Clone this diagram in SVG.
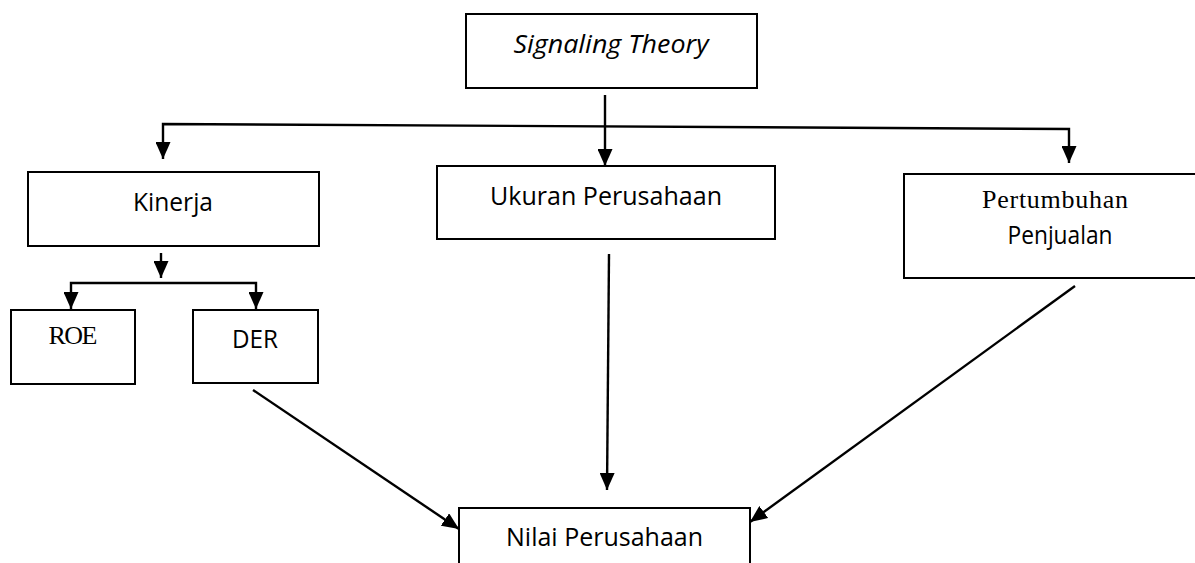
<svg xmlns="http://www.w3.org/2000/svg" width="1195" height="563" viewBox="0 0 1195 563">
<style>
.box{fill:#fff;stroke:#000;stroke-width:2}
.ln{fill:none;stroke:#000;stroke-width:2.4}
.sans{font-family:"Open Sans","Noto Sans",sans-serif;font-size:25px;fill:#000}
.serif{font-family:"Liberation Serif","DejaVu Serif",serif;font-size:26px;fill:#000}
</style>
<defs>
<marker id="ah" markerUnits="userSpaceOnUse" markerWidth="17" markerHeight="15" refX="17" refY="7.5" orient="auto-start-reverse" viewBox="0 0 17 15">
<path d="M0,0 L17,7.5 L0,15 Z" fill="#000"/>
</marker>
</defs>
<rect width="1195" height="563" fill="#fff"/>
<g id="signaling">
<rect class="box" x="466" y="14" width="291" height="74"/>
<text class="sans" x="611" y="53" text-anchor="middle" font-style="italic" textLength="195" lengthAdjust="spacingAndGlyphs">Signaling Theory</text>
</g>
<g id="kinerja">
<rect class="box" x="28" y="172" width="291" height="74"/>
<text class="sans" x="173" y="211" text-anchor="middle" textLength="80" lengthAdjust="spacingAndGlyphs">Kinerja</text>
</g>
<g id="ukuran">
<rect class="box" x="437" y="166" width="338" height="73"/>
<text class="sans" x="606" y="205" text-anchor="middle" textLength="232" lengthAdjust="spacingAndGlyphs">Ukuran Perusahaan</text>
</g>
<g id="pertumbuhan">
<rect class="box" x="904" y="174" width="292" height="104"/>
<text class="serif" x="1055" y="208" text-anchor="middle" textLength="146" lengthAdjust="spacing">Pertumbuhan</text>
<text class="sans" x="1060" y="244" text-anchor="middle" textLength="105" lengthAdjust="spacingAndGlyphs">Penjualan</text>
</g>
<g id="roe">
<rect class="box" x="11" y="310" width="124" height="74"/>
<text class="serif" x="73" y="344" text-anchor="middle" textLength="49" lengthAdjust="spacing">ROE</text>
</g>
<g id="der">
<rect class="box" x="193" y="310" width="125" height="73"/>
<text class="sans" x="255" y="348" text-anchor="middle" textLength="46" lengthAdjust="spacingAndGlyphs">DER</text>
</g>
<g id="nilai">
<rect class="box" x="459" y="508" width="291" height="70"/>
<text class="sans" x="604.5" y="546" text-anchor="middle" textLength="197" lengthAdjust="spacingAndGlyphs">Nilai Perusahaan</text>
</g>
<g id="connectors">
<path class="ln" d="M605,95 L605,166" marker-end="url(#ah)"/>
<path class="ln" d="M163,159 L163,124 L1069,129 L1069,163" marker-start="url(#ah)" marker-end="url(#ah)"/>
<path class="ln" d="M161,253 L161,278" marker-end="url(#ah)"/>
<path class="ln" d="M71,309 L71,283 L256,283 L256,309" marker-start="url(#ah)" marker-end="url(#ah)"/>
<path class="ln" d="M253,390 L459,529" marker-end="url(#ah)"/>
<path class="ln" d="M609,254 L607,490" marker-end="url(#ah)"/>
<path class="ln" d="M1075,286 L750,522" marker-end="url(#ah)"/>
</g>
</svg>
